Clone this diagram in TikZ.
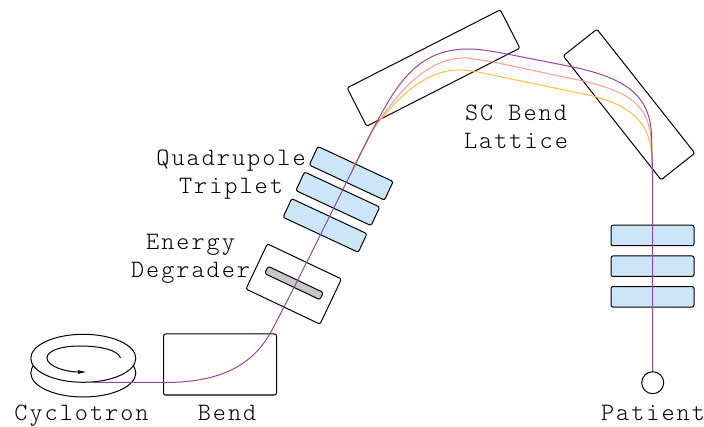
\documentclass[tikz,border=0pt]{standalone}
\usepackage{fontspec}
\usepackage{xcolor}
\usetikzlibrary{arrows.meta,positioning,calc,shapes.geometric}
\newfontfamily\labelfont[LetterSpace=8]{Latin Modern Mono Light}
\definecolor{beamviolet}{HTML}{8E4A9A}
\definecolor{beampink}{HTML}{FF9A90}
\definecolor{beamyellow}{HTML}{FFC040}
\definecolor{quadblue}{HTML}{CCE6F8}
\definecolor{slabgrey}{HTML}{C8C8C8}
\tikzset{
	magnet/.style={draw,line width=1pt,rounded corners=2pt,inner sep=0pt,minimum width=#1},
	magnet/.default=82pt,
	quad/.style={magnet=83pt,fill=quadblue,minimum height=20.5pt},
	bigbend/.style={magnet=#1,minimum height=43pt},
	disc/.style={draw,line width=1pt,fill=white,ellipse,inner sep=0pt,minimum width=105pt,minimum height=48pt},
	beam/.style={line width=1pt},
	label/.style={font=\labelfont\fontsize{25}{28}\selectfont,inner sep=0pt,text depth=0pt,align=center}
}

\begin{document}
\begin{tikzpicture}[x=1pt,y=-1pt]
	\useasboundingbox (0,0) rectangle (704,427);
	
	% cyclotron
	\node[disc] (cyclobottom) at (83.3,373) {};
	\node[disc] (cyclotop) at (83.3,358.3) {};
	\coordinate (spiralstart) at (120.5,358);
	\draw[line width=1pt,-{Latex[length=3.2mm,width=1.4mm]}] (spiralstart) .. controls (118,350) and (100,346) .. (80,346) .. controls (60,346) and (47,351) .. (47,358) .. controls (47,366) and (65,372) .. (87,372);
	
	% magnets
	\node[magnet=113pt,minimum height=61pt] (bend) at (220,364.5) {};
	\node[magnet=82pt,minimum height=50pt,rotate=-25.4] (degrader) at (293.7,284) {};
	\node[draw,line width=1pt,fill=slabgrey,rounded corners=2pt,inner sep=0pt,minimum width=61pt,minimum height=8pt,rotate=-25.4] (slab) at (294,283) {};
	\node[quad,rotate=-25] (quadc) at (325,225.5) {};
	\node[quad,rotate=-25] (quadb) at (337.8,198.8) {};
	\node[quad,rotate=-25] (quada) at (351.2,173.3) {};
	\node[bigbend=172pt,rotate=27] (sca) at (433.5,68) {};
	\node[bigbend=158pt,rotate=-51.7] (scb) at (629,104.5) {};
	
	% final triplet and patient
	\node[quad] (quadd) at (652.5,235.5) {};
	\node[quad] (quade) at (652.5,266.2) {};
	\node[quad] (quadf) at (652.5,296.8) {};
	\node[draw,line width=1pt,circle,inner sep=0pt,minimum size=22pt] (patient) at (652.7,382.7) {};
	
	% beam paths
	\coordinate (beamstart) at (90,382.5);
	\coordinate (merge) at (352,170);
	\coordinate (turn) at (652.7,178);
	\draw[beam,beamyellow] (merge) -- (372,131) .. controls (395,100) and (425,68) .. (463,70) -- (473,71) -- (593,96) .. controls (630,106) and (650,122) .. (651.5,155) -- (turn);
	\draw[beam,beampink] (merge) -- (372,131) .. controls (395,97) and (425,56) .. (468,58) -- (493,62) -- (583,81) .. controls (630,92) and (650,105) .. (651.5,145) -- (turn);
	\draw[beam,beamviolet] (beamstart) -- (165,382.5) .. controls (225,382.5) and (255,362) .. (272,330) .. controls (300,277) and (345,185) .. (372,131) .. controls (395,88) and (415,49) .. (468,49) .. controls (480,49) and (490,51) .. (507,54) -- (573,67) .. controls (625,78) and (650,95) .. (651.5,135) -- (turn) -- (patient.north);
	
	% labels
	\node[label] (cyclolabel) at (81.5,413) {Cyclotron};
	\node[label] (bendlabel) at (227,413) {Bend};
	\node[label] (quadlabel) at (231,172) {Quadrupole\\Triplet};
	\node[label] (degraderlabel) at (190.5,256) {Energy\\Degrader};
	\node[label] (sclabel) at (516,127) {SC Bend\\Lattice};
	\node[label] (patientlabel) at (653,413) {Patient};
\end{tikzpicture}
\end{document}
